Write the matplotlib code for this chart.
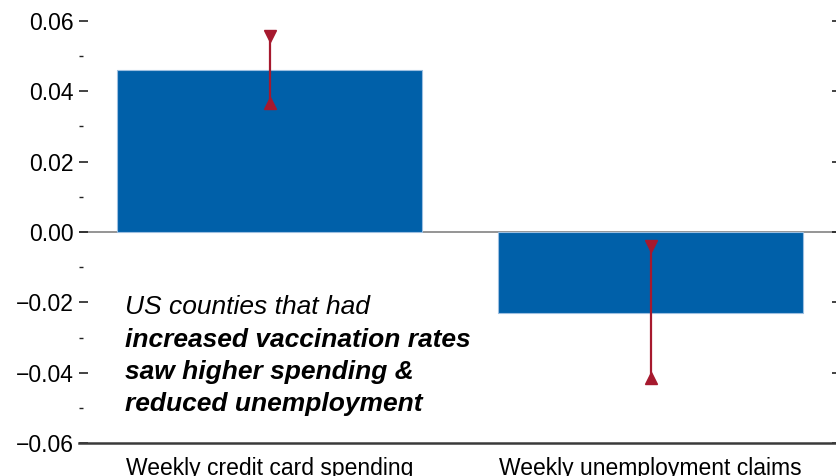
import matplotlib.pyplot as plt
from matplotlib.ticker import MultipleLocator, FuncFormatter

plt.rcParams['font.family'] = ['Liberation Sans', 'DejaVu Sans']

# Estimated effects of higher vaccination rates, with confidence bounds.
categories = ['Weekly credit card spending', 'Weekly unemployment claims']
effects = [0.046, -0.023]
lower = [0.0367, -0.0415]
upper = [0.0557, -0.0040]

bar_blue = '#0060a9'
err_red = '#a6192e'

fig = plt.figure(figsize=(8.37, 4.76), dpi=100)
ax = fig.add_axes([0.0944, 0.0693, 0.9104, 0.8866])

x = range(len(categories))
ax.bar(x, effects, width=0.8, color=bar_blue, edgecolor='#9dbfe0',
       linewidth=0.8, zorder=2)

# Confidence bounds: vertical line with inward-pointing triangles at each end.
for xi, lo, hi in zip(x, lower, upper):
    ax.plot([xi, xi], [lo, hi], color=err_red, lw=1.6, zorder=3)
    ax.plot([xi], [hi], marker='v', ms=9, color=err_red, zorder=4)
    ax.plot([xi], [lo], marker='^', ms=9, color=err_red, zorder=4)

ax.axhline(0, color='#8c8c8c', lw=1.3, zorder=1)

ax.set_xlim(-0.5, 1.5)
ax.set_ylim(-0.06, 0.06)

ax.set_xticks(list(x))
ax.set_xticklabels(categories, fontsize=16.5)
ax.tick_params(axis='x', length=0, pad=10)

ax.yaxis.set_major_locator(MultipleLocator(0.02))
ax.yaxis.set_minor_locator(MultipleLocator(0.01))
ax.yaxis.set_major_formatter(
    FuncFormatter(lambda v, _: f'{v:.2f}'.replace('-', '\u2212')))
ax.tick_params(axis='y', which='both', direction='in', left=True, right=True,
               labelsize=16.5, color='#222222', pad=4)
ax.tick_params(axis='y', which='major', length=6.5, width=1.2)
ax.tick_params(axis='y', which='minor', length=3, width=1.0)

for side in ['top', 'left', 'right']:
    ax.spines[side].set_visible(False)
ax.spines['bottom'].set_color('#3a3a3a')
ax.spines['bottom'].set_linewidth(1.8)

# Callout text in the lower-left corner.
lines = [
    ('US counties that had', 'normal'),
    ('increased vaccination rates', 'bold'),
    ('saw higher spending &', 'bold'),
    ('reduced unemployment', 'bold'),
]
for i, (txt, weight) in enumerate(lines):
    ax.text(0.061, 0.322 - i * 0.0768, txt, transform=ax.transAxes,
            fontsize=19, style='italic', fontweight=weight,
            va='center', ha='left', color='black')

fig.savefig('out.png', dpi=100)
